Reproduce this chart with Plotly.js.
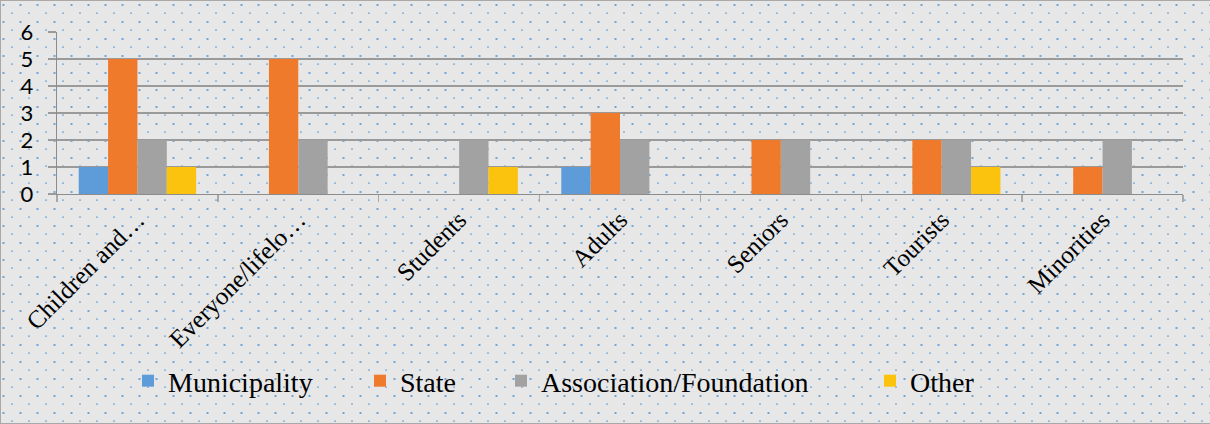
<!DOCTYPE html>
<html>
<head>
<meta charset="utf-8">
<script src="https://cdn.plot.ly/plotly-3.0.1.min.js"></script>
<style>
  html, body { margin: 0; padding: 0; }
  #frame {
    width: 1210px; height: 424px; box-sizing: border-box;
    border: 1px solid #a9a9a9; border-right: none;
    background-color: #e7e7e7;
    background-image: url("data:image/svg+xml;utf8,<svg xmlns='http://www.w3.org/2000/svg' width='17' height='17'><rect x='2.5' y='3' width='2' height='2' fill='%235b9bd5' fill-opacity='0.85'/><rect x='11' y='11.5' width='2' height='1.2' fill='%235b9bd5' fill-opacity='0.85'/></svg>");
    background-position: -1px 0px;
  }
  #chart { width: 1210px; height: 424px; position: absolute; left: 0; top: 0; }
</style>
</head>
<body>
<div id="frame"></div>
<div id="chart"></div>
<script>
// Target groups on the category axis
const categories = ["Children and…", "Everyone/lifelo…", "Students", "Adults", "Seniors", "Tourists", "Minorities"];

// Counts per funding source
const municipality = [1, 0, 0, 1, 0, 0, 0];
const state        = [5, 5, 0, 3, 2, 2, 1];
const association  = [2, 2, 2, 2, 2, 2, 2];
const other        = [1, 0, 1, 0, 0, 1, 0];

const seriesNames = ["Municipality", "State", "Association/Foundation", "Other"];
const seriesValues = [municipality, state, association, other];
const seriesColors = ["#5d9cd8", "#ef7a2c", "#a2a2a2", "#fcc30e"];

const W = 1210, H = 424;
const M = { l: 57, r: 27, t: 32, b: 230 };
const plotW = W - M.l - M.r, plotH = H - M.t - M.b;
const toPaperX = px => (px - M.l) / plotW;
const toPaperY = py => (H - M.b - py) / plotH;

// Each series gets its own legend so the entries sit at their own spots
const legendLeft = [128, 360, 501, 870];
const legendIds = ["legend", "legend2", "legend3", "legend4"];

const traces = seriesNames.map((name, i) => ({
  type: "bar",
  name: name,
  x: categories,
  y: seriesValues[i],
  marker: { color: seriesColors[i], line: { width: 0 } },
  legend: legendIds[i],
  hoverinfo: "x+y+name"
}));

const serif = "'Liberation Serif', 'DejaVu Serif', serif";

const layout = {
  width: W, height: H,
  margin: M,
  paper_bgcolor: "rgba(0,0,0,0)",
  plot_bgcolor: "rgba(0,0,0,0)",
  barmode: "group",
  bargap: 0.27,
  bargroupgap: 0,
  showlegend: true,
  xaxis: {
    type: "category",
    tickson: "boundaries",
    ticks: "outside",
    ticklen: 7,
    tickwidth: 1.3,
    tickcolor: "#a8a8a8",
    showline: true,
    linecolor: "#8c8c8c",
    linewidth: 1.3,
    showgrid: false,
    tickangle: -45,
    tickfont: { family: serif, size: 25, color: "#000" }
  },
  yaxis: {
    range: [0, 6],
    dtick: 1,
    tick0: 0,
    showgrid: true,
    gridcolor: "#9a9a9a",
    gridwidth: 1.3,
    zeroline: false,
    showline: true,
    linecolor: "#8c8c8c",
    linewidth: 1.3,
    ticks: "outside",
    ticklen: 8,
    tickwidth: 1.3,
    tickcolor: "#9a9a9a",
    ticklabelstandoff: 10,
    tickfont: { family: "Lato, 'Liberation Sans', sans-serif", size: 22, color: "#000" }
  }
};

legendIds.forEach((id, i) => {
  layout[id] = {
    orientation: "h",
    x: toPaperX(legendLeft[i]),
    xanchor: "left",
    y: toPaperY(381),
    yanchor: "middle",
    bgcolor: "rgba(0,0,0,0)",
    borderwidth: 0,
    font: { family: serif, size: 28, color: "#000" }
  };
});

Plotly.newPlot("chart", traces, layout, { displayModeBar: false, staticPlot: true });
</script>
</body>
</html>
